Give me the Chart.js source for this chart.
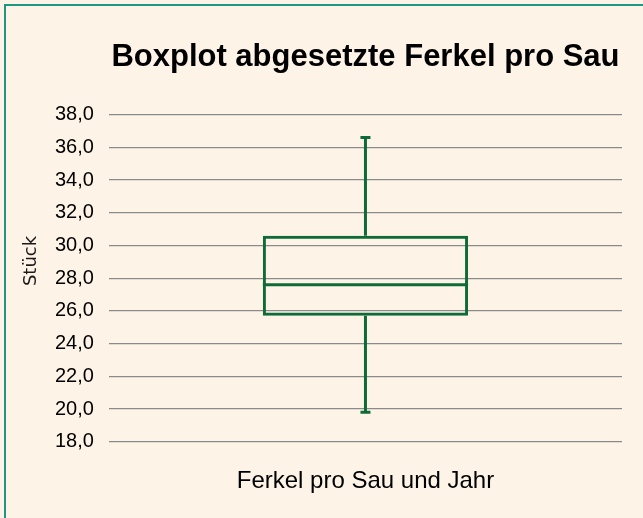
<!DOCTYPE html>
<html lang="de">
<head>
<meta charset="utf-8">
<title>Boxplot abgesetzte Ferkel pro Sau</title>
<script src="https://cdn.jsdelivr.net/npm/chart.js@4.4.1/dist/chart.umd.min.js"></script>
<style>
  html, body {
    margin: 0;
    padding: 0;
    background: #fdf4e7;
    overflow: hidden;
  }
  .rahmen {
    position: absolute;
    left: 4px;
    top: 4px;
    width: 700px;
    height: 600px;
    border-left: 2px solid #1e9683;
    border-top: 2px solid #1e9683;
  }
  .box {
    position: absolute;
    left: 0;
    top: 0;
    width: 643px;
    height: 518px;
  }
</style>
</head>
<body>
<div class="rahmen"></div>
<div class="box"><canvas id="boxplot"></canvas></div>
<script>
// Kennzahlen: Ferkel pro Sau und Jahr
const kategorien = ["Ferkel pro Sau und Jahr"];
const minimum = [19.8];
const quartil1 = [25.7];
const median = [27.6];
const quartil3 = [30.6];
const maximum = [36.6];

// Skala Stück
const yMin = 18;
const yMax = 38;
const ySchritt = 2;
const yTitel = "Stück";

const gruen = "#0e6b37";

// Median und Whisker zeichnen
const whiskerPlugin = {
  id: "whisker",
  afterDatasetsDraw(chart) {
    const ctx = chart.ctx;
    const y = chart.scales.y;
    const meta = chart.getDatasetMeta(0);

    ctx.save();
    ctx.strokeStyle = gruen;
    ctx.lineWidth = 3;
    ctx.lineCap = "butt";

    meta.data.forEach((bar, i) => {
      const x = bar.x;
      const halb = bar.width / 2;
      const kappe = 5;

      const yMed = y.getPixelForValue(median[i]);
      const yQ1 = y.getPixelForValue(quartil1[i]);
      const yQ3 = y.getPixelForValue(quartil3[i]);
      const yLo = y.getPixelForValue(minimum[i]);
      const yHi = y.getPixelForValue(maximum[i]);

      ctx.beginPath();
      ctx.moveTo(x - halb, yMed);
      ctx.lineTo(x + halb, yMed);

      ctx.moveTo(x, yQ3);
      ctx.lineTo(x, yHi);
      ctx.moveTo(x - kappe, yHi);
      ctx.lineTo(x + kappe, yHi);

      ctx.moveTo(x, yQ1);
      ctx.lineTo(x, yLo);
      ctx.moveTo(x - kappe, yLo);
      ctx.lineTo(x + kappe, yLo);
      ctx.stroke();
    });

    ctx.restore();
  }
};

// Achsentitel links, mittig zur ganzen Grafik
const achsenTitelPlugin = {
  id: "achsenTitel",
  afterDraw(chart) {
    const ctx = chart.ctx;
    ctx.save();
    ctx.translate(31, chart.height / 2 + 2);
    ctx.rotate(-Math.PI / 2);
    ctx.font = "18px 'DejaVu Sans', sans-serif";
    ctx.fillStyle = "#1a1a1a";
    ctx.textAlign = "center";
    ctx.textBaseline = "middle";
    ctx.fillText(yTitel, 0, 0);
    ctx.restore();
  }
};

const ctx = document.getElementById("boxplot").getContext("2d");

const chart = new Chart(ctx, {
  type: "bar",
  data: {
    labels: kategorien,
    datasets: [{
      label: "Boxplot",
      data: quartil1.map((q, i) => [q, quartil3[i]]),
      backgroundColor: "rgba(0,0,0,0)",
      borderColor: gruen,
      borderWidth: 3,
      borderSkipped: false,
      categoryPercentage: 1,
      barPercentage: 0.4
    }]
  },
  options: {
    responsive: true,
    maintainAspectRatio: false,
    animation: false,
    layout: {
      padding: { left: 40, right: 21, top: 0, bottom: 5.5 }
    },
    plugins: {
      legend: { display: false },
      tooltip: { enabled: false },
      title: {
        display: true,
        fullSize: false,
        text: "Boxplot abgesetzte Ferkel pro Sau",
        color: "#000",
        font: { family: "'Liberation Sans', Arial, sans-serif", size: 31, weight: "bold" },
        padding: { top: 39, bottom: 38.5 }
      }
    },
    scales: {
      x: {
        grid: { display: false },
        border: { display: false },
        ticks: {
          color: "#000",
          padding: 17,
          font: { family: "'Liberation Sans', Arial, sans-serif", size: 24 }
        }
      },
      y: {
        min: yMin,
        max: yMax,
        grid: {
          color: "#8a8a8a",
          lineWidth: 1.2,
          drawTicks: false
        },
        border: { display: false },
        ticks: {
          stepSize: ySchritt,
          color: "#000",
          padding: 15,
          font: { family: "'Liberation Sans', Arial, sans-serif", size: 20 },
          callback: (wert) => wert.toFixed(1).replace(".", ",")
        }
      }
    }
  },
  plugins: [whiskerPlugin, achsenTitelPlugin]
});
</script>
</body>
</html>
